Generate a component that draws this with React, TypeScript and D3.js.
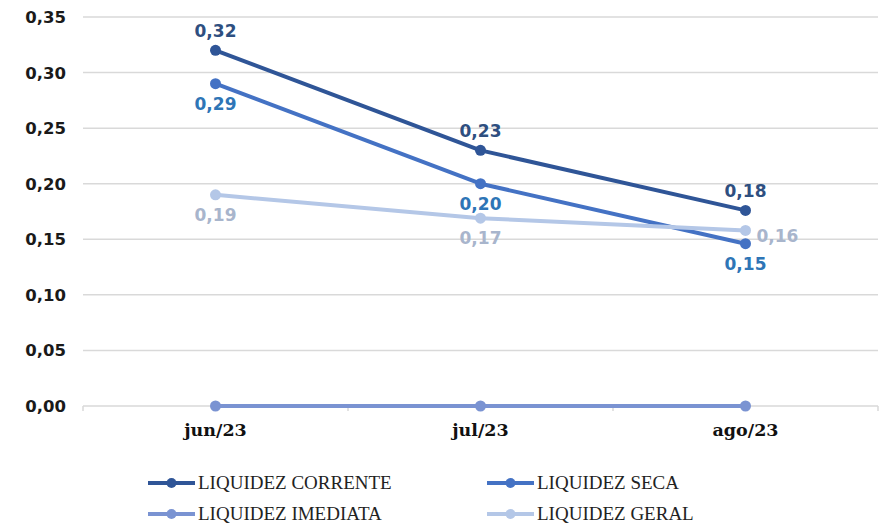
import React from "react";
import * as d3 from "d3";

const categories = ["jun/23", "jul/23", "ago/23"];
const seriesNames = ["LIQUIDEZ CORRENTE", "LIQUIDEZ SECA", "LIQUIDEZ IMEDIATA", "LIQUIDEZ GERAL"];
const corrente = [0.32, 0.23, 0.176];
const seca = [0.29, 0.2, 0.146];
const imediata = [0, 0, 0];
const geral = [0.19, 0.169, 0.158];
const yTicks = [0, 0.05, 0.1, 0.15, 0.2, 0.25, 0.3, 0.35];

const W = 883;
const H = 525;
const margin = { left: 83, right: 5, top: 17, bottom: 119 };

type LabelPos = "above" | "below" | "right" | "none";

const series = [
  { name: seriesNames[0], values: corrente, color: "#2F5597", labelColor: "#2E4F80", pos: ["above", "above", "above"] as LabelPos[] },
  { name: seriesNames[1], values: seca, color: "#4472C4", labelColor: "#2E75B6", pos: ["below", "below", "below"] as LabelPos[] },
  { name: seriesNames[2], values: imediata, color: "#7A93D2", labelColor: "#7A93D2", pos: ["none", "none", "none"] as LabelPos[] },
  { name: seriesNames[3], values: geral, color: "#B4C7E7", labelColor: "#A8B5CC", pos: ["below", "below", "right"] as LabelPos[] },
];

const fmt = (v: number) => d3.format(".2f")(v).replace(".", ",");

export default function App() {
  const x = d3.scaleBand<string>().domain(categories).range([margin.left, W - margin.right]);
  const y = d3.scaleLinear().domain([0, 0.35]).range([H - margin.bottom, margin.top]);
  const cx = (c: string) => (x(c) as number) + x.bandwidth() / 2;
  const line = d3
    .line<number>()
    .x((_, i) => cx(categories[i]))
    .y((d) => y(d));

  const boundaries = [...categories.map((c) => x(c) as number), W - margin.right];
  const legendItems = [
    { s: series[0], lx: 148, ly: 483 },
    { s: series[1], lx: 487, ly: 483 },
    { s: series[2], lx: 148, ly: 514 },
    { s: series[3], lx: 487, ly: 514 },
  ];

  return (
    <svg width={W} height={H} style={{ position: "absolute", left: 0, top: 0, background: "#fff" }}>
      {yTicks.map((t) => (
        <line key={t} x1={margin.left} x2={W - margin.right} y1={y(t)} y2={y(t)} stroke="#D9D9D9" strokeWidth={1.5} />
      ))}
      {boundaries.map((b, i) => (
        <line key={i} x1={b} x2={b} y1={y(0)} y2={y(0) + 5} stroke="#D9D9D9" strokeWidth={1.5} />
      ))}
      {yTicks.map((t) => (
        <text
          key={t}
          x={66}
          y={y(t)}
          dy="0.36em"
          textAnchor="end"
          fontFamily="'DejaVu Sans', sans-serif"
          fontWeight="bold"
          fontSize={16.5}
          fill="#1a1a1a"
        >
          {fmt(t)}
        </text>
      ))}
      {categories.map((c) => (
        <text
          key={c}
          x={cx(c)}
          y={436}
          textAnchor="middle"
          fontFamily="'DejaVu Serif', serif"
          fontWeight="bold"
          fontSize={17.5}
          fill="#111"
        >
          {c}
        </text>
      ))}
      {series.map((s) => (
        <g key={s.name}>
          <path d={line(s.values) || ""} fill="none" stroke={s.color} strokeWidth={4} strokeLinejoin="round" />
          {s.values.map((v, i) => (
            <circle key={i} cx={cx(categories[i])} cy={y(v)} r={5.5} fill={s.color} />
          ))}
        </g>
      ))}
      {series.map((s) =>
        s.values.map((v, i) => {
          const p = s.pos[i];
          if (p === "none") return null;
          const px = cx(categories[i]);
          const py = y(v);
          let tx = px;
          let ty = py;
          let anchor: "middle" | "start" = "middle";
          if (p === "above") ty = py - 13;
          else if (p === "below") ty = py + 26;
          else {
            tx = px + 11;
            ty = py + 12;
            anchor = "start";
          }
          return (
            <text
              key={s.name + i}
              x={tx}
              y={ty}
              textAnchor={anchor}
              fontFamily="'DejaVu Sans', sans-serif"
              fontWeight="bold"
              fontSize={17}
              fill={s.labelColor}
            >
              {fmt(v)}
            </text>
          );
        })
      )}
      {legendItems.map(({ s, lx, ly }) => (
        <g key={s.name}>
          <line x1={lx} x2={lx + 47} y1={ly} y2={ly} stroke={s.color} strokeWidth={4} />
          <circle cx={lx + 23.5} cy={ly} r={5} fill={s.color} />
          <text
            x={lx + 50}
            y={ly}
            dy="0.34em"
            fontFamily="'Liberation Serif', serif"
            fontSize={19}
            fill="#222"
          >
            {s.name}
          </text>
        </g>
      ))}
    </svg>
  );
}
